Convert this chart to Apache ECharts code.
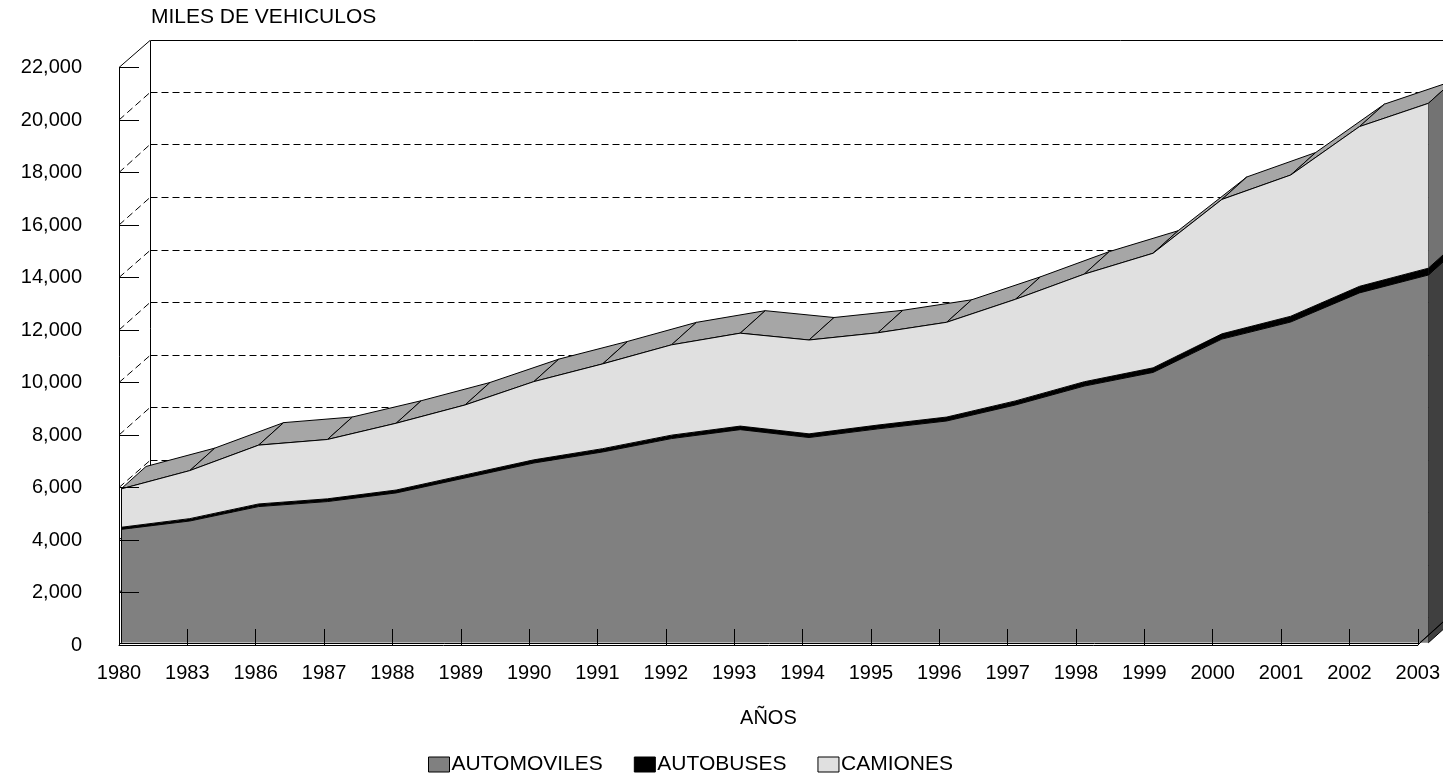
<!DOCTYPE html>
<html>
<head>
<meta charset="utf-8">
<script src="https://cdn.jsdelivr.net/npm/echarts@6/dist/echarts.min.js"></script>
<style>
  html, body { margin: 0; padding: 0; background: #fff; }
  #chart { width: 1443px; height: 777px; }
</style>
</head>
<body>
<div id="chart"></div>
<script>
// Vehículos registrados (miles)
const years = ['1980', '1983', '1986', '1987', '1988', '1989', '1990', '1991', '1992', '1993',
               '1994', '1995', '1996', '1997', '1998', '1999', '2000', '2001', '2002', '2003'];
const automoviles = [4320, 4640, 5190, 5380, 5710, 6280, 6850, 7270, 7780, 8120,
                     7820, 8150, 8450, 9060, 9780, 10300, 11570, 12220, 13330, 14010];
const autobuses = [80, 90, 100, 105, 110, 115, 120, 125, 130, 135,
                   140, 145, 150, 155, 165, 175, 200, 220, 250, 260];
const camiones = [1460, 1830, 2240, 2260, 2545, 2665, 2980, 3230, 3440, 3540,
                  3575, 3515, 3610, 3870, 4100, 4365, 5120, 5380, 6085, 6280];
const yTicks = [0, 2000, 4000, 6000, 8000, 10000, 12000, 14000, 16000, 18000, 20000, 22000];

const FONT = '"Liberation Sans", Arial, Helvetica, sans-serif';
const WALL = [31, -28];          // depth of floor and walls (px)
const SERIES_DEPTH = [25, -22.5]; // depth of the area solid (px)
const FRONT = [2, -2.2];         // series front plane sits slightly behind the axis plane
const GRID = { left: 119, right: 16.7, top: 67.5, bottom: 132 };

const lastIdx = years.length - 1;
const tops = years.map((_, i) => automoviles[i] + autobuses[i] + camiones[i]);

const COLORS = {
  auto: '#808080', bus: '#000000', cam: '#e0e0e0',
  camTop: '#a6a6a6', autoSide: '#404040', busSide: '#000000', camSide: '#737373'
};

const shiftBy = (pt, d) => [pt[0] + d[0], pt[1] + d[1]];
const crisp = v => Math.round(v) + 0.5;

// Back wall, left wall and their gridlines (axis plane)
function renderWalls(params, api) {
  const v = api.value(1);
  const p = api.coord([0, v]);
  const q = api.coord([lastIdx, v]);
  const isTop = v === yTicks[yTicks.length - 1];
  const style = { stroke: '#000', lineWidth: 1, lineDash: isTop ? null : [7, 4], fill: null };
  const pb = shiftBy(p, WALL), qb = shiftBy(q, WALL);
  const yb = crisp(pb[1]);
  const children = [
    { type: 'line', shape: { x1: p[0], y1: p[1], x2: pb[0], y2: yb }, style },
    { type: 'line', shape: { x1: crisp(pb[0]), y1: yb, x2: qb[0], y2: yb }, style }
  ];
  if (isTop) {
    const b = shiftBy(api.coord([0, 0]), WALL);
    children.push({ type: 'line', shape: { x1: crisp(pb[0]), y1: yb, x2: crisp(b[0]), y2: b[1] },
                    style: { stroke: '#000', lineWidth: 1 } });
  }
  return { type: 'group', children };
}

// Top surface of the stack and the right-hand side face (series plane)
function renderSolid(params, api) {
  const i = params.dataIndex;
  const children = [];
  const edge = { stroke: '#000', lineWidth: 1 };
  if (i < lastIdx) {
    const a = api.coord([i, tops[i]]);
    const b = api.coord([i + 1, tops[i + 1]]);
    children.push({
      type: 'polygon',
      shape: { points: [a, b, shiftBy(b, SERIES_DEPTH), shiftBy(a, SERIES_DEPTH)] },
      style: Object.assign({ fill: COLORS.camTop, lineJoin: 'round' }, edge)
    });
  } else {
    const levels = [0, automoviles[i], automoviles[i] + autobuses[i], tops[i]];
    const fills = [COLORS.autoSide, COLORS.busSide, COLORS.camSide];
    for (let k = 0; k < 3; k++) {
      const lo = api.coord([i, levels[k]]);
      const hi = api.coord([i, levels[k + 1]]);
      children.push({
        type: 'polygon',
        shape: { points: [lo, hi, shiftBy(hi, SERIES_DEPTH), shiftBy(lo, SERIES_DEPTH)] },
        style: Object.assign({ fill: fills[k] }, edge)
      });
    }
  }
  return { type: 'group', children };
}

// Floor edges drawn over the front face
function renderFloor(params, api) {
  const a0 = api.coord([0, 0]);
  const a1 = api.coord([lastIdx, 0]);
  const s0 = shiftBy(a0, FRONT);
  const s1 = shiftBy(a1, FRONT);
  const st = api.coord([0, tops[0]]);
  const sTop = shiftBy(st, FRONT);
  const line = { stroke: '#000', lineWidth: 1 };
  const aBack = shiftBy(a1, WALL);
  return {
    type: 'group',
    children: [
      { type: 'rect', shape: { x: a0[0], y: s0[1], width: a1[0] - a0[0], height: a0[1] - s0[1] },
        style: { fill: '#fff' } },
      { type: 'line', shape: { x1: a0[0], y1: crisp(s0[1]), x2: s1[0], y2: crisp(s1[1]) }, style: line },
      { type: 'line', shape: { x1: crisp(s0[0]), y1: s0[1], x2: crisp(sTop[0]), y2: sTop[1] }, style: line },
      { type: 'line', shape: { x1: a1[0], y1: a1[1], x2: aBack[0], y2: aBack[1] }, style: line },
      { type: 'line', shape: { x1: s1[0], y1: s1[1], x2: s1[0] + SERIES_DEPTH[0], y2: s1[1] + SERIES_DEPTH[1] }, style: line }
    ]
  };
}

const gridB = {
  left: GRID.left + FRONT[0], right: GRID.right - FRONT[0],
  top: GRID.top + FRONT[1], bottom: GRID.bottom - FRONT[1]
};

const labelStyle = { fontFamily: FONT, fontSize: 20, color: '#000' };

const option = {
  backgroundColor: '#fff',
  animation: false,
  title: {
    text: 'MILES DE VEHICULOS', left: 151, top: 7, padding: 0,
    textStyle: { fontFamily: FONT, fontSize: 21, fontWeight: 'normal', color: '#000' }
  },
  legend: {
    left: 428, top: 754, padding: 0, itemWidth: 21, itemHeight: 15, itemGap: 31, icon: 'rect',
    selectedMode: false,
    textStyle: { fontFamily: FONT, fontSize: 21, color: '#000', padding: [0, 0, 0, -3] },
    data: [
      { name: 'AUTOMOVILES', itemStyle: { color: COLORS.auto, borderColor: '#000', borderWidth: 1 } },
      { name: 'AUTOBUSES', itemStyle: { color: COLORS.bus, borderColor: '#000', borderWidth: 1 } },
      { name: 'CAMIONES', itemStyle: { color: COLORS.cam, borderColor: '#000', borderWidth: 1 } }
    ]
  },
  grid: [
    Object.assign({ containLabel: false }, GRID),
    Object.assign({ containLabel: false }, gridB)
  ],
  xAxis: [
    {
      gridIndex: 0, type: 'category', data: years, boundaryGap: false, z: 10,
      name: 'AÑOS', nameLocation: 'middle', nameGap: 63,
      nameTextStyle: { fontFamily: FONT, fontSize: 20, color: '#000' },
      axisLine: { lineStyle: { color: '#000', width: 1 } },
      axisTick: { inside: true, length: 16, alignWithLabel: true, interval: 0, lineStyle: { color: '#000' } },
      axisLabel: Object.assign({ margin: 18, interval: 0 }, labelStyle),
      splitLine: { show: false }
    },
    {
      gridIndex: 1, type: 'category', data: years, boundaryGap: false, show: false
    }
  ],
  yAxis: [
    {
      gridIndex: 0, type: 'value', min: 0, max: 22000, interval: 2000, z: 10,
      axisLine: { show: true, lineStyle: { color: '#000', width: 1 } },
      axisTick: { show: true, inside: true, length: 20, lineStyle: { color: '#000' } },
      axisLabel: Object.assign({ margin: 37, formatter: v => v.toLocaleString('en-US') }, labelStyle),
      splitLine: { show: false }
    },
    {
      gridIndex: 1, type: 'value', min: 0, max: 22000, interval: 2000, show: false, splitLine: { show: false }
    }
  ],
  series: [
    {
      type: 'custom', name: 'walls', xAxisIndex: 0, yAxisIndex: 0, z: 1, silent: true, clip: false,
      renderItem: renderWalls, encode: { x: 0, y: 1 },
      data: yTicks.map(v => [years[0], v])
    },
    {
      type: 'custom', name: 'solid', xAxisIndex: 1, yAxisIndex: 1, z: 2, silent: true, clip: false,
      renderItem: renderSolid, encode: { x: 0, y: 1 },
      data: years.map((y, i) => [i, tops[i]])
    },
    {
      type: 'line', name: 'AUTOMOVILES', xAxisIndex: 1, yAxisIndex: 1, stack: 'total', z: 3,
      data: automoviles, symbol: 'none', smooth: false,
      itemStyle: { color: COLORS.auto },
      lineStyle: { color: '#000', width: 1 },
      areaStyle: { color: COLORS.auto, opacity: 1 }
    },
    {
      type: 'line', name: 'AUTOBUSES', xAxisIndex: 1, yAxisIndex: 1, stack: 'total', z: 3,
      data: autobuses, symbol: 'none', smooth: false,
      itemStyle: { color: COLORS.bus },
      lineStyle: { color: '#000', width: 1 },
      areaStyle: { color: COLORS.bus, opacity: 1 }
    },
    {
      type: 'line', name: 'CAMIONES', xAxisIndex: 1, yAxisIndex: 1, stack: 'total', z: 3,
      data: camiones, symbol: 'none', smooth: false,
      itemStyle: { color: COLORS.cam },
      lineStyle: { color: '#000', width: 1 },
      areaStyle: { color: COLORS.cam, opacity: 1 }
    },
    {
      type: 'custom', name: 'floor', xAxisIndex: 0, yAxisIndex: 0, z: 4, silent: true, clip: false,
      renderItem: renderFloor, encode: { x: 0, y: 1 },
      data: [[years[0], 0]]
    }
  ]
};

const chart = echarts.init(document.getElementById('chart'), null, { renderer: 'canvas' });
chart.setOption(option);
</script>
</body>
</html>
